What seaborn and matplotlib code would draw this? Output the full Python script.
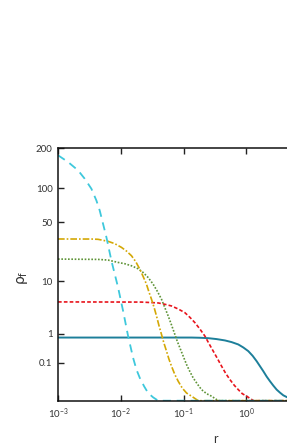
import numpy as np
import pandas as pd
import matplotlib
matplotlib.use("Agg")
import matplotlib.pyplot as plt
import seaborn as sns

# values (r, rho_f)
cyan_r = [0.001, 0.001443, 0.002084, 0.002662, 0.003401, 0.004087, 0.004619, 0.005221,
          0.005902, 0.007091, 0.008014, 0.009056, 0.01088, 0.01307, 0.0157, 0.01775,
          0.02007, 0.02352, 0.02725, 0.03274, 0.03936, 0.1, 1.0, 100.0]
cyan_rho = [178, 159.3, 138.1, 119.1, 99.0, 78.8, 64.1, 47.9,
            35.0, 18.8, 12.58, 8.04, 3.18, 0.855, 0.1655, 0.0461,
            0.0132, 0.0021, 0.00017, 0.000006, 0, 0, 0, 0]

gold_r = [0.001, 0.0034, 0.00434, 0.006272, 0.008014, 0.01023, 0.0123, 0.01478, 0.01733,
          0.02007, 0.02268, 0.02563, 0.02793, 0.03081, 0.03397, 0.03701, 0.04031, 0.04446,
          0.04844, 0.05343, 0.05821, 0.06421, 0.07258, 0.08203, 0.095, 0.1114, 0.1338,
          0.171, 1.0, 100.0]
gold_rho = [33.54, 33.5, 33.27, 31.64, 29.82, 27.12, 24.61, 21.67, 18.28,
            14.70, 11.68, 9.04, 6.96, 5.20, 3.68, 2.53, 1.61, 0.947,
            0.552, 0.296, 0.1505, 0.0694, 0.0228, 0.007, 0.00128, 0.00017, 0.00002,
            0, 0, 0]

green_r = [0.001, 0.00434, 0.006272, 0.009056, 0.01157, 0.01478, 0.01888, 0.02268, 0.02725,
           0.03274, 0.03839, 0.04446, 0.05025, 0.05683, 0.06421, 0.07258, 0.07907, 0.08718,
           0.09854, 0.1114, 0.1259, 0.1422, 0.1668, 0.1932, 0.2322, 0.279, 0.3563, 100.0]
green_rho = [19.73, 19.55, 19.18, 17.93, 17.25, 16.26, 14.85, 13.26, 11.30,
             9.04, 6.96, 5.20, 3.68, 2.53, 1.61, 0.947, 0.619, 0.384,
             0.193, 0.0838, 0.0353, 0.0132, 0.00355, 0.00073, 0.00012, 0.00002, 0, 0]

red_r = [0.001, 0.02134, 0.03936, 0.05025, 0.06421, 0.08203, 0.1047, 0.1259, 0.1513,
         0.182, 0.2184, 0.2529, 0.2965, 0.3476, 0.4027, 0.4666, 0.5469, 0.6412,
         0.7426, 0.8605, 1.0085, 1.3, 100.0]
red_rho = [4.67, 4.64, 4.48, 4.24, 3.95, 3.47, 2.95, 2.37, 1.82,
           1.29, 0.855, 0.527, 0.296, 0.1505, 0.0694, 0.0279, 0.0097, 0.00276,
           0.00073, 0.00012, 0.00002, 0, 0]

teal_r = [0.001, 0.134, 0.182, 0.2468, 0.335, 0.4553, 0.5814, 0.7426, 0.8925,
          1.072, 1.257, 1.456, 1.646, 1.86, 2.102, 2.376, 2.685, 3.035,
          3.43, 3.877, 4.49, 6.0, 100.0]
teal_rho = [0.78, 0.78, 0.77, 0.75, 0.707, 0.647, 0.578, 0.491, 0.394,
            0.296, 0.199, 0.1195, 0.0694, 0.037, 0.0166, 0.007, 0.00253, 0.00073,
            0.000205, 0.00004, 0.000006, 0, 0]

y_ticks = [0.1, 1, 10, 50, 100, 200]
y_ticklabels = ["0.1", "1", "10", "50", "100", "200"]
x_ticks = [1e-3, 1e-2, 1e-1, 1e0]

series = [
    (teal_r, teal_rho, "#1d7f9a", "-", 1.4),
    (red_r, red_rho, "#e8141c", (0, (2.2, 1.3)), 1.2),
    (green_r, green_rho, "#5f9438", (0, (1, 1)), 1.2),
    (gold_r, gold_rho, "#d4a806", (0, (4, 1.2, 1, 1.2)), 1.2),
    (cyan_r, cyan_rho, "#3ec8dc", (0, (4.5, 3.2)), 1.3),
]

sns.set_style("ticks")
plt.rcParams['font.family'] = ['Lato', 'DejaVu Sans']
plt.rcParams['mathtext.fontset'] = 'dejavusans'

fig = plt.figure(figsize=(2.87, 4.48), dpi=100)
ax = fig.add_axes([58 / 287, 47.3 / 448, 314 / 287, 252.7 / 448])

for r, rho, c, ls, lw in series:
    df = pd.DataFrame({"r": r, "rho": rho})
    sns.lineplot(data=df, x="r", y="rho", ax=ax, color=c, linestyle=ls, linewidth=lw,
                 sort=False, estimator=None)

ax.set_xscale("log")
ax.set_yscale("function", functions=(lambda v: np.sign(v) * np.abs(v) ** 0.25,
                                     lambda v: np.sign(v) * np.abs(v) ** 4))
ax.set_xlim(1e-3, 1e2)
ax.set_ylim(0, 200)
ax.set_yticks(y_ticks)
ax.set_yticklabels(y_ticklabels)
ax.set_xticks(x_ticks)
ax.minorticks_off()
ax.tick_params(direction="in", length=4, width=1, labelsize=7, colors="#222222",
               top=True, right=True, pad=4)
ax.tick_params(axis="y", labelcolor="#333333")
ax.tick_params(axis="x", labelcolor="#333333")
for s in ax.spines.values():
    s.set_linewidth(1.1)
    s.set_color("#111111")

ax.set_xlabel("r", fontsize=9, color="#333333")
ax.set_ylabel(r"$\mathrm{\rho_f}$", fontsize=10, color="#333333")
ax.xaxis.set_label_coords(157 / 314, -32 / 252.7)
ax.yaxis.set_label_coords(-28 / 314, (400.7 - 278) / 252.7)

fig.savefig("out.png", dpi=100)
